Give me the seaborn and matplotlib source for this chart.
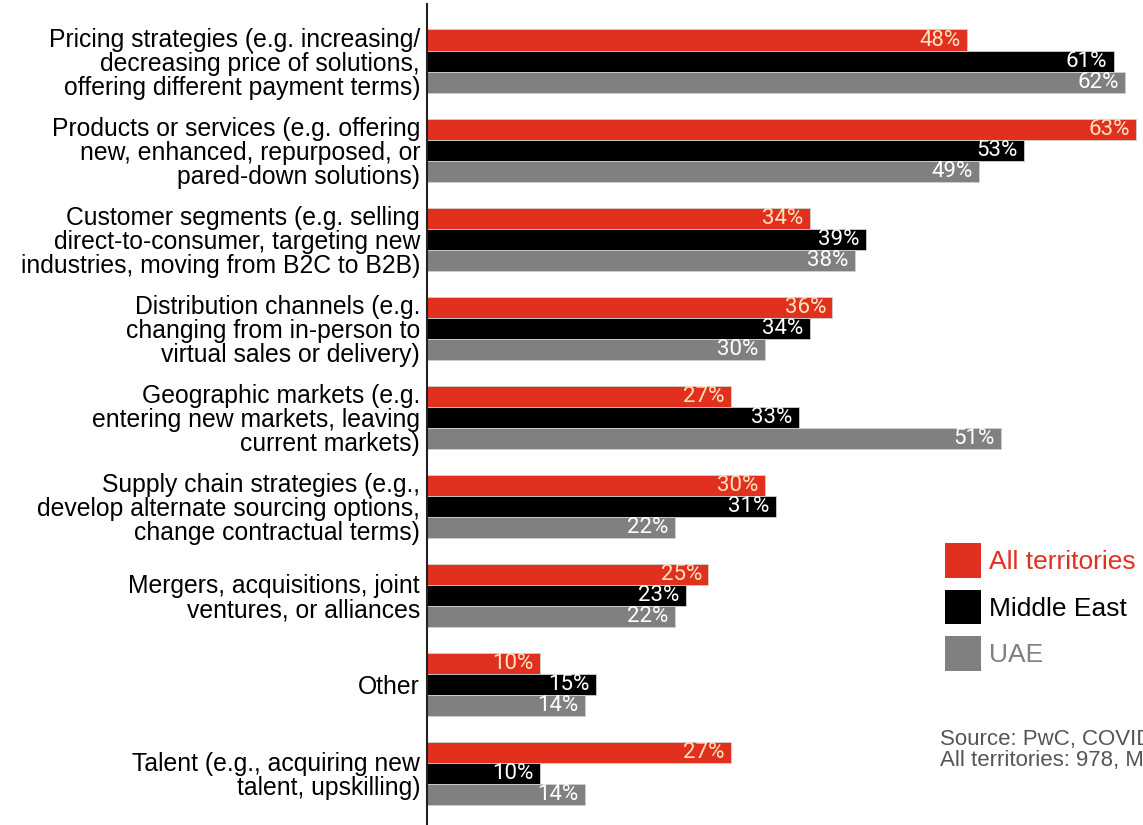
import pandas as pd
import matplotlib.pyplot as plt
import seaborn as sns
from matplotlib.patches import Patch

# data
categories = [
    "Pricing strategies (e.g. increasing/\ndecreasing price of solutions,\noffering different payment terms)",
    "Products or services (e.g. offering\nnew, enhanced, repurposed, or\npared-down solutions)",
    "Customer segments (e.g. selling\ndirect-to-consumer, targeting new\nindustries, moving from B2C to B2B)",
    "Distribution channels (e.g.\nchanging from in-person to\nvirtual sales or delivery)",
    "Geographic markets (e.g.\nentering new markets, leaving\ncurrent markets)",
    "Supply chain strategies (e.g.,\ndevelop alternate sourcing options,\nchange contractual terms)",
    "Mergers, acquisitions, joint\nventures, or alliances",
    "Other",
    "Talent (e.g., acquiring new\ntalent, upskilling)",
]
series_names = ["All territories", "Middle East", "UAE"]
all_territories = [48, 63, 34, 36, 27, 30, 25, 10, 27]
middle_east = [61, 53, 39, 34, 33, 31, 23, 15, 10]
uae = [62, 49, 38, 30, 51, 22, 22, 14, 14]

colors = ["#e2301f", "#000000", "#808080"]
label_colors = ["#fbe3c0", "white", "white"]

df = pd.DataFrame({
    "category": categories * 3,
    "series": [s for s in series_names for _ in categories],
    "value": all_territories + middle_east + uae,
})

sns.set_style("white")
plt.rcParams["font.family"] = ["Liberation Sans", "DejaVu Sans"]

fig = plt.figure(figsize=(11.43, 8.25), dpi=100)
ax = fig.add_axes([427 / 1143, 0, 1 - 427 / 1143, 1 - 4 / 825])

sns.barplot(data=df, y="category", x="value", hue="series", order=categories,
            hue_order=series_names, palette=colors, saturation=1, orient="h",
            width=0.708, edgecolor="#d0d0d0", linewidth=0.6, legend=False, ax=ax)

ax.set_xlim(0, 63.6)
ax.set_ylim(8.573, -0.64)
ax.set_xlabel("")
ax.set_ylabel("")
ax.set_xticks([])
ax.tick_params(axis="y", length=0, pad=5, labelsize=17.8, labelcolor="black")
for t in ax.get_yticklabels():
    t.set_linespacing(1.0)

for side in ["top", "right", "bottom"]:
    ax.spines[side].set_visible(False)
ax.spines["left"].set_color("#222222")
ax.spines["left"].set_linewidth(1.5)

# value labels inside bar ends
for cont, lc in zip(ax.containers, label_colors):
    for bar in cont:
        w = bar.get_width()
        ax.annotate(f"{w:.0f}%", xy=(w, bar.get_y() + bar.get_height() / 2),
                    xytext=(-4.5, 0), textcoords="offset points", ha="right",
                    va="center", color=lc, fontsize=16,
                    family=["Roboto", "DejaVu Sans"])

# legend
handles = [Patch(facecolor=c, edgecolor="none") for c in colors]
leg = fig.legend(handles, series_names, loc="upper left",
                 bbox_to_anchor=(945 / 1143, 1 - 543 / 825), frameon=False,
                 fontsize=19, handlelength=1.36, handleheight=1.65,
                 handletextpad=0.3, labelspacing=0.45, borderpad=0,
                 borderaxespad=0)
for txt, c in zip(leg.get_texts(), colors):
    txt.set_color(c)

fig.text(940 / 1143, 1 - 750 / 825,
         "Source: PwC, COVID-19 CFO Pulse Survey\nAll territories: 978, Middle East",
         fontsize=16, color="#555555", ha="left", va="center", linespacing=1.0)

fig.savefig("out.png", dpi=100)
